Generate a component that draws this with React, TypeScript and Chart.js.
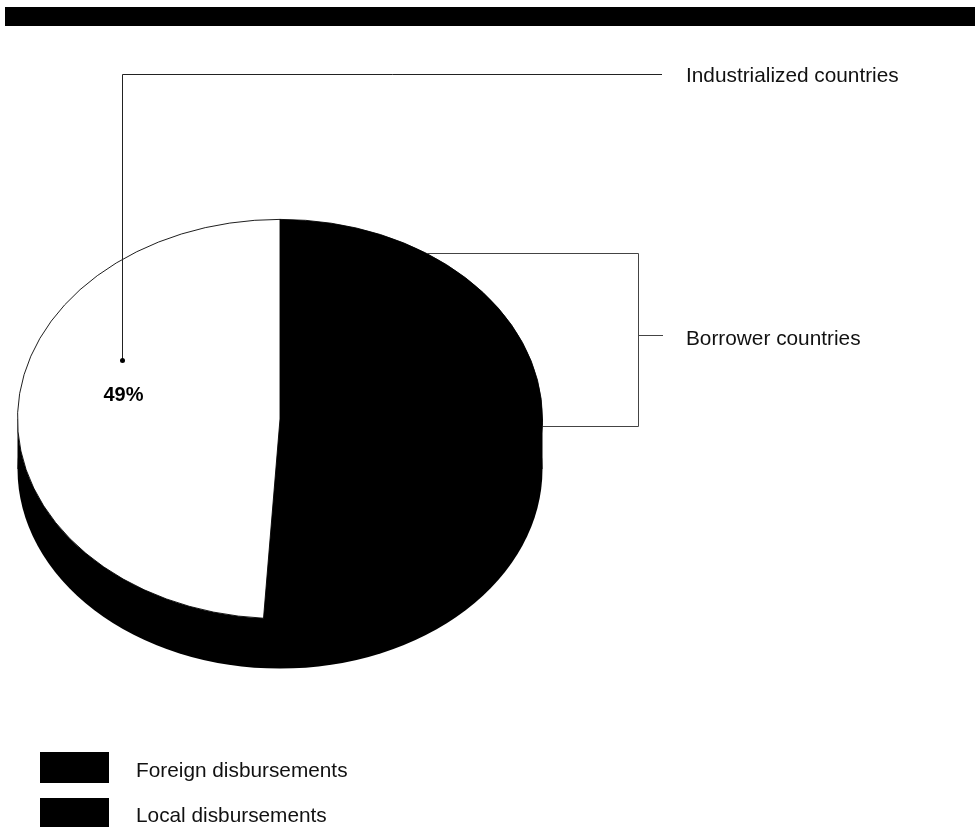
import React, { useEffect, useRef } from "react";
import { Chart, registerables } from "chart.js";

Chart.register(...registerables);

const sliceLabels = ["Borrower countries", "Industrialized countries"];
const sliceValues = [51, 49];
const sliceColors = ["#000000", "#ffffff"];
const percentLabel = "49%";
const legendLabels = ["Foreign disbursements", "Local disbursements"];
const legendColors = ["#000000", "#000000"];

const FONT = "'Liberation Sans', Arial, Helvetica, sans-serif";
const W = 975;
const H = 827;
const Y_RATIO = 200 / 263;
const DEPTH = 50;

const piePlugin = {
  id: "pie3d",
  beforeDraw(chart: any) {
    const ctx = chart.ctx;
    ctx.save();
    ctx.fillStyle = "#ffffff";
    ctx.fillRect(0, 0, W, H);
    ctx.fillStyle = "#000000";
    ctx.fillRect(5, 7, 970, 19);
    ctx.restore();
  },
  beforeDatasetsDraw(chart: any) {
    const ctx = chart.ctx;
    const arc = chart.getDatasetMeta(0).data[0];
    const cx = arc.x;
    const cy = arc.y;
    const r = arc.outerRadius;
    ctx.save();
    ctx.fillStyle = "#000000";
    ctx.beginPath();
    ctx.ellipse(cx, cy + DEPTH, r, r * Y_RATIO, 0, 0, Math.PI * 2);
    ctx.fill();
    ctx.fillRect(cx - r, cy, 2 * r, DEPTH);
    ctx.restore();
    ctx.save();
    ctx.translate(cx, cy);
    ctx.scale(1, Y_RATIO);
    ctx.translate(-cx, -cy);
  },
  afterDatasetsDraw(chart: any) {
    const ctx = chart.ctx;
    ctx.restore();
    ctx.save();
    // percentage label
    ctx.fillStyle = "#000000";
    ctx.font = `bold 20px ${FONT}`;
    ctx.textAlign = "center";
    ctx.textBaseline = "alphabetic";
    ctx.fillText(percentLabel, 123.5, 401);

    // callout: industrialized
    ctx.strokeStyle = "#222222";
    ctx.lineWidth = 1;
    ctx.beginPath();
    ctx.moveTo(122.5, 360);
    ctx.lineTo(122.5, 74.5);
    ctx.lineTo(662, 74.5);
    ctx.stroke();
    ctx.beginPath();
    ctx.arc(122.5, 360.5, 2.5, 0, Math.PI * 2);
    ctx.fill();

    // callout: borrower bracket
    ctx.strokeStyle = "#444444";
    ctx.beginPath();
    ctx.moveTo(427, 253.5);
    ctx.lineTo(638.5, 253.5);
    ctx.lineTo(638.5, 426.5);
    ctx.lineTo(543, 426.5);
    ctx.moveTo(638.5, 335.5);
    ctx.lineTo(663, 335.5);
    ctx.stroke();

    ctx.fillStyle = "#111111";
    ctx.font = `20.8px ${FONT}`;
    ctx.textAlign = "left";
    ctx.fillText(sliceLabels[1], 686, 82);
    ctx.fillText(sliceLabels[0], 686, 345);

    // legend
    legendLabels.forEach((lab, i) => {
      const y = 752 + i * 46;
      ctx.fillStyle = legendColors[i];
      ctx.fillRect(40, y, 69, 31);
      ctx.fillStyle = "#111111";
      ctx.fillText(lab, 136, 777 + i * 45);
    });
    ctx.restore();
  },
};

export default function App() {
  const ref = useRef<HTMLCanvasElement>(null);
  useEffect(() => {
    if (!ref.current) return;
    const chart = new Chart(ref.current, {
      type: "pie",
      data: {
        labels: sliceLabels,
        datasets: [
          {
            data: sliceValues,
            backgroundColor: sliceColors,
            borderColor: "#000000",
            borderWidth: 1,
            hoverOffset: 0,
          },
        ],
      },
      options: {
        responsive: false,
        animation: false,
        devicePixelRatio: 1,
        events: [],
        layout: { padding: { left: 17, right: 432, top: 156, bottom: 145 } },
        plugins: {
          legend: { display: false },
          tooltip: { enabled: false },
          title: { display: false },
        },
      },
      plugins: [piePlugin],
    });
    return () => chart.destroy();
  }, []);
  return (
    <div style={{ position: "absolute", left: 0, top: 0, width: W, height: H }}>
      <canvas ref={ref} width={W} height={H} style={{ display: "block" }} />
    </div>
  );
}
